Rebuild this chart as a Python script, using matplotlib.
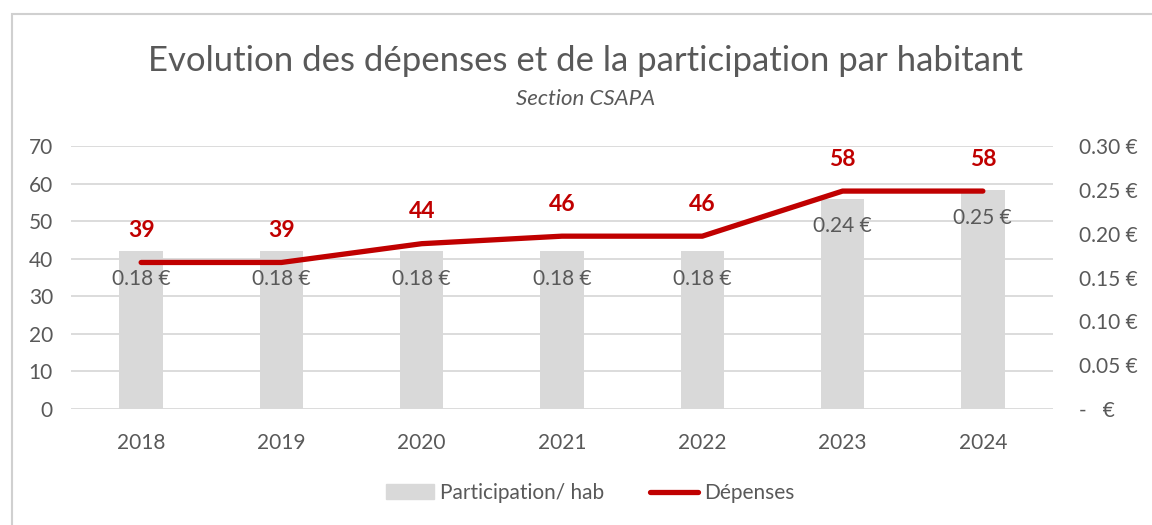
import matplotlib.pyplot as plt
from matplotlib.patches import Rectangle
from matplotlib.lines import Line2D
from matplotlib.ticker import FuncFormatter, MultipleLocator

plt.rcParams['font.family'] = ['Lato', 'DejaVu Sans']

GRAY_TEXT = '#595959'
BAR_COLOR = '#D9D9D9'
LINE_COLOR = '#C00000'
GRID_COLOR = '#D9D9D9'

years = ['2018', '2019', '2020', '2021', '2022', '2023', '2024']
depenses = [39, 39, 44, 46, 46, 58, 58]
participation = [0.18, 0.18, 0.18, 0.18, 0.18, 0.24, 0.25]

W, H = 1152, 525
fig = plt.figure(figsize=(W / 100, H / 100), dpi=100)

# outer chart frame like the spreadsheet export
fig.patches.append(Rectangle((12 / W, -0.1), 1.2, 1 - 14 / H + 0.1,
                             transform=fig.transFigure, fill=False,
                             edgecolor='#D0D0D0', linewidth=1.5))

rect = [71 / W, 1 - 409 / H, (1053 - 71) / W, (409 - 146) / H]
ax = fig.add_axes(rect)
ax_bar = ax.twinx()
ax_line = ax.twinx()

x = list(range(len(years)))

# left axis: gridlines + 0-70 labels
ax.set_ylim(0, 70)
ax.set_xlim(-0.5, len(years) - 0.5)
ax.yaxis.set_major_locator(MultipleLocator(10))
ax.grid(axis='y', color=GRID_COLOR, linewidth=1.3)
ax.tick_params(axis='y', length=0, labelsize=15, labelcolor=GRAY_TEXT, pad=13)
ax.tick_params(axis='x', length=0, labelsize=15, labelcolor=GRAY_TEXT, pad=17)
ax.set_xticks(x)
ax.set_xticklabels(years)

# right axis: bars
ax_bar.bar(x, participation, width=0.31, color=BAR_COLOR, zorder=2)
ax_bar.set_ylim(0, 0.30)
ax_bar.yaxis.set_major_locator(MultipleLocator(0.05))
ax_bar.yaxis.set_major_formatter(
    FuncFormatter(lambda v, p: '-   €' if abs(v) < 1e-9 else f'{v:.2f} €'))
ax_bar.tick_params(axis='y', length=0, labelsize=15, labelcolor=GRAY_TEXT, pad=19)
for xi, v in zip(x, participation):
    ax_bar.annotate(f'{v:.2f} €', (xi, v), xytext=(0, -20), textcoords='offset points',
                    ha='center', va='center', fontsize=15, color=GRAY_TEXT, zorder=3)

# line on its own axis sharing the 0-70 scale
ax_line.plot(x, depenses, color=LINE_COLOR, linewidth=3.8, solid_capstyle='round', zorder=4)
ax_line.set_ylim(0, 70)
ax_line.yaxis.set_visible(False)
for xi, v in zip(x, depenses):
    ax_line.annotate(str(v), (xi, v), xytext=(0, 23), textcoords='offset points',
                     ha='center', va='center', fontsize=16.5, fontweight='bold',
                     color=LINE_COLOR)

for a in (ax, ax_bar, ax_line):
    for s in a.spines.values():
        s.set_visible(False)

fig.text(586 / W, 1 - 61 / H, 'Evolution des dépenses et de la participation par habitant',
         ha='center', va='center', fontsize=25, color=GRAY_TEXT)
fig.text(586 / W, 1 - 99 / H, 'Section CSAPA', ha='center', va='center',
         fontsize=16, style='italic', color=GRAY_TEXT)

handles = [Rectangle((0, 0), 1, 1, color=BAR_COLOR),
           Line2D([0], [0], color=LINE_COLOR, linewidth=3.8, solid_capstyle='round')]
fig.legend(handles, ['Participation/ hab', 'Dépenses'], loc='center',
           bbox_to_anchor=(590 / W, 1 - 493 / H), ncol=2, frameon=False,
           fontsize=15, labelcolor=GRAY_TEXT, handlelength=2.3, handletextpad=0.3,
           columnspacing=2.2)

fig.savefig('out.png', dpi=100)
